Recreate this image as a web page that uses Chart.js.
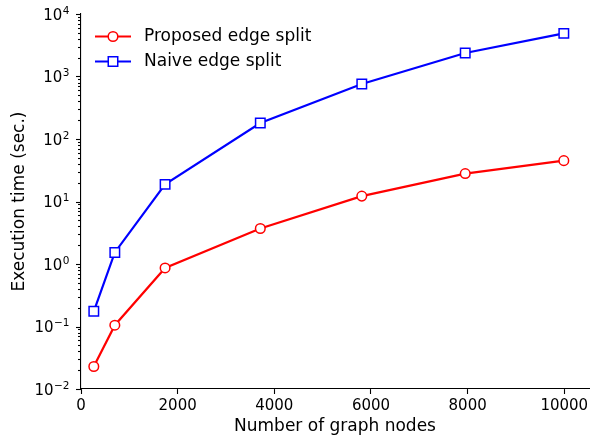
<!DOCTYPE html>
<html>
<head>
<meta charset="utf-8">
<script src="https://cdn.jsdelivr.net/npm/chart.js@4/dist/chart.umd.min.js"></script>
<style>
html,body{margin:0;padding:0;background:#fff;}
#wrap{width:598px;height:437px;}
</style>
</head>
<body>
<div id="wrap"><canvas id="c" width="598" height="437"></canvas></div>
<script>
// ---- data ----
const graphNodes = [265, 700, 1740, 3710, 5810, 7950, 9990];
const proposedTimes = [0.0229, 0.105, 0.865, 3.7, 12.2, 28, 45];
const naiveTimes = [0.175, 1.53, 18.8, 180, 760, 2380, 4900];
const seriesLabels = ['Proposed edge split', 'Naive edge split'];
const xTickValues = [0, 2000, 4000, 6000, 8000, 10000];
const yMajorExponents = [-2, -1, 0, 1, 2, 3, 4];
const xTitle = 'Number of graph nodes';
const yTitle = 'Execution time (sec.)';

const FONT = 'DejaVu Sans';
const toPoints = (xs, ys) => xs.map((x, i) => ({x: x, y: ys[i]}));

// y ticks: majors and minors (2..9 per decade)
const yTickList = [];
yMajorExponents.forEach((e, idx) => {
  yTickList.push({value: Math.pow(10, e), major: true, exp: e});
  if (idx < yMajorExponents.length - 1) {
    for (let m = 2; m <= 9; m++) yTickList.push({value: m * Math.pow(10, e), major: false});
  }
});

// draws y tick marks (major/minor) and mathtext-like labels 10^n
const yTickPlugin = {
  id: 'yTicks',
  afterDraw(chart) {
    const s = chart.scales.y;
    const ctx = chart.ctx;
    ctx.save();
    ctx.strokeStyle = '#000';
    ctx.lineWidth = 1.1;
    s.ticks.forEach(t => {
      const py = Math.round(s.getPixelForValue(t.value)) + 0.5;
      const len = t.major ? 5 : 3;
      ctx.beginPath();
      ctx.moveTo(s.right, py);
      ctx.lineTo(s.right - len, py);
      ctx.stroke();
    });
    ctx.fillStyle = '#000';
    ctx.textAlign = 'left';
    ctx.textBaseline = 'alphabetic';
    const rightEdge = s.right - 11.5;
    s.ticks.forEach(t => {
      if (!t.major) return;
      const py = s.getPixelForValue(t.value);
      const expStr = String(t.exp).replace('-', '\u2212');
      ctx.font = '10.5px "' + FONT + '"';
      const ew = ctx.measureText(expStr).width;
      ctx.fillText(expStr, rightEdge - ew, py - 0.2);
      ctx.font = '15px "' + FONT + '"';
      const bw = ctx.measureText('10').width;
      ctx.fillText('10', rightEdge - ew - bw - 0.5, py + 5.6);
    });
    ctx.restore();
  }
};

const legendPlugin = {
  id: 'mplLegend',
  afterDraw(chart) {
    const ctx = chart.ctx;
    const area = chart.chartArea;
    const x0 = area.left + 14, x1 = area.left + 50, xm = (x0 + x1) / 2, tx = area.left + 63;
    const rows = [area.top + 22.5, area.top + 47.5];
    ctx.save();
    chart.data.datasets.forEach((ds, i) => {
      const y = rows[i];
      ctx.strokeStyle = ds.borderColor;
      ctx.lineWidth = ds.borderWidth;
      ctx.beginPath(); ctx.moveTo(x0, y); ctx.lineTo(x1, y); ctx.stroke();
      ctx.fillStyle = ds.pointBackgroundColor;
      ctx.strokeStyle = ds.borderColor;
      ctx.lineWidth = ds.pointBorderWidth;
      ctx.beginPath();
      if (ds.pointStyle === 'rect') {
        const h = Math.SQRT1_2 * ds.pointRadius;
        ctx.rect(xm - h, y - h, 2*h, 2*h);
      } else {
        ctx.arc(xm, y, ds.pointRadius, 0, Math.PI*2);
      }
      ctx.fill(); ctx.stroke();
      ctx.fillStyle = '#000';
      ctx.font = '17px "' + FONT + '"';
      ctx.textBaseline = 'middle';
      ctx.textAlign = 'left';
      ctx.fillText(ds.label, tx, y);
    });
    ctx.restore();
  }
};

new Chart(document.getElementById('c'), {
  type: 'scatter',
  data: {
    datasets: [
      {
        label: seriesLabels[0],
        data: toPoints(graphNodes, proposedTimes),
        showLine: true,
        borderColor: '#ff0000',
        backgroundColor: '#ffffff',
        pointBackgroundColor: '#ffffff',
        pointBorderColor: '#ff0000',
        borderWidth: 2.2,
        pointBorderWidth: 1.5,
        pointStyle: 'circle',
        pointRadius: 4.8,
        pointHoverRadius: 4.8,
        tension: 0
      },
      {
        label: seriesLabels[1],
        data: toPoints(graphNodes, naiveTimes),
        showLine: true,
        borderColor: '#0000ff',
        backgroundColor: '#ffffff',
        pointBackgroundColor: '#ffffff',
        pointBorderColor: '#0000ff',
        borderWidth: 2.2,
        pointBorderWidth: 1.5,
        pointStyle: 'rect',
        pointRadius: 6.7,
        pointHoverRadius: 6.7,
        tension: 0
      }
    ]
  },
  options: {
    responsive: false,
    animation: false,
    devicePixelRatio: 1,
    layout: {padding: {left: 0, right: 9, top: 11, bottom: 0}},
    plugins: {legend: {display: false}, tooltip: {enabled: false}},
    scales: {
      x: {
        type: 'linear',
        min: 0,
        max: 10511,
        afterBuildTicks: s => { s.ticks = xTickValues.map(v => ({value: v})); },
        afterFit: s => { s.height = 48; },
        grid: {display: true, drawOnChartArea: false, drawTicks: true, tickLength: 5, tickColor: '#000', tickWidth: 1.1},
        border: {display: true, color: '#000', width: 1.1},
        ticks: {color: '#000', font: {family: FONT, size: 15}, padding: 3, maxRotation: 0, autoSkip: false,
          callback: v => String(v)},
        title: {display: true, text: xTitle, color: '#000', font: {family: FONT, size: 17, lineHeight: 1.2}, padding: {top: 0, bottom: 0}}
      },
      y: {
        type: 'logarithmic',
        min: 0.01,
        max: 10000,
        afterBuildTicks: s => { s.ticks = yTickList.map(t => Object.assign({}, t)); },
        afterFit: s => { s.width = 81; },
        grid: {display: true, drawOnChartArea: false, drawTicks: true, tickLength: 5, tickColor: 'rgba(0,0,0,0)'},
        border: {display: true, color: '#000', width: 1.1},
        ticks: {color: '#000', font: {family: FONT, size: 15}, padding: 5, autoSkip: false,
          callback: () => ''},
        title: {display: true, text: yTitle, color: '#000', font: {family: FONT, size: 17, lineHeight: 1.2}, padding: {top: 9.3, bottom: 0}}
      }
    }
  },
  plugins: [yTickPlugin, legendPlugin]
});
</script>
</body>
</html>
